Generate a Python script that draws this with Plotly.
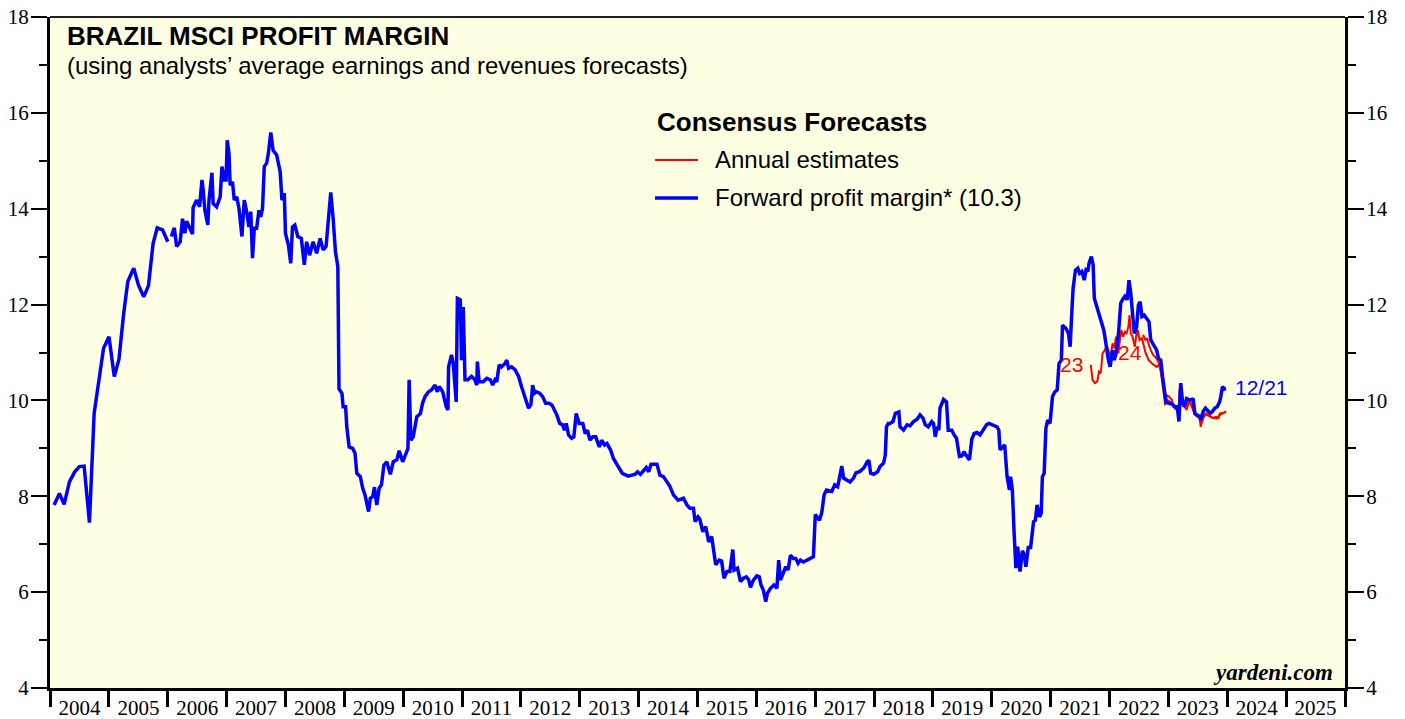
import pandas as pd
import plotly.graph_objects as go

# ---------------- data (decimal years, profit margin %) ----------------
fwd_t = [2004.07, 2004.16, 2004.24, 2004.33, 2004.42, 2004.50, 2004.58, 2004.67, 2004.75, 2004.84,
         2004.91, 2005.00, 2005.09, 2005.17, 2005.25, 2005.32, 2005.42, 2005.50, 2005.59, 2005.67,
         2005.75, 2005.82, 2005.91, 2006.00, 2006.03, 2006.06, 2006.11, 2006.15, 2006.21, 2006.25,
         2006.29, 2006.32, 2006.37, 2006.42, 2006.43, 2006.49, 2006.54, 2006.58, 2006.60, 2006.63,
         2006.68, 2006.70, 2006.75, 2006.77, 2006.83, 2006.89, 2006.92, 2006.96, 2006.99, 2007.01,
         2007.04, 2007.06, 2007.10, 2007.13, 2007.17, 2007.21, 2007.26, 2007.30, 2007.34, 2007.38,
         2007.41, 2007.44, 2007.47, 2007.51, 2007.55, 2007.58, 2007.61, 2007.64, 2007.68, 2007.71,
         2007.75, 2007.79, 2007.85, 2007.91, 2007.94, 2007.98, 2008.00, 2008.05, 2008.09, 2008.12,
         2008.16, 2008.21, 2008.27, 2008.32, 2008.36, 2008.41, 2008.47, 2008.53, 2008.59, 2008.64,
         2008.69, 2008.73, 2008.77, 2008.81, 2008.85, 2008.89, 2008.91, 2008.96, 2008.98, 2009.02,
         2009.04, 2009.08, 2009.14, 2009.18, 2009.21, 2009.27, 2009.31, 2009.35, 2009.41, 2009.44,
         2009.48, 2009.51, 2009.55, 2009.59, 2009.63, 2009.67, 2009.72, 2009.78, 2009.83, 2009.89,
         2009.93, 2009.99, 2010.03, 2010.08, 2010.10, 2010.13, 2010.17, 2010.23, 2010.29, 2010.33,
         2010.37, 2010.43, 2010.48, 2010.54, 2010.58, 2010.61, 2010.67, 2010.73, 2010.76, 2010.77,
         2010.82, 2010.85, 2010.90, 2010.92, 2010.97, 2010.99, 2011.02, 2011.05, 2011.10, 2011.16,
         2011.22, 2011.25, 2011.26, 2011.29, 2011.36, 2011.42, 2011.48, 2011.52, 2011.56, 2011.59,
         2011.63, 2011.67, 2011.73, 2011.76, 2011.79, 2011.84, 2011.90, 2011.96, 2012.01, 2012.07,
         2012.13, 2012.17, 2012.20, 2012.23, 2012.26, 2012.32, 2012.37, 2012.42, 2012.48, 2012.53,
         2012.58, 2012.61, 2012.66, 2012.71, 2012.74, 2012.77, 2012.81, 2012.86, 2012.90, 2012.94,
         2012.99, 2013.05, 2013.09, 2013.13, 2013.17, 2013.22, 2013.27, 2013.33, 2013.37, 2013.42,
         2013.46, 2013.52, 2013.57, 2013.61, 2013.67, 2013.72, 2013.82, 2013.94, 2013.98, 2014.03,
         2014.13, 2014.17, 2014.21, 2014.31, 2014.36, 2014.42, 2014.48, 2014.53, 2014.59, 2014.67,
         2014.76, 2014.82, 2014.87, 2014.93, 2014.96, 2015.01, 2015.04, 2015.09, 2015.14, 2015.19,
         2015.24, 2015.27, 2015.31, 2015.37, 2015.41, 2015.45, 2015.50, 2015.55, 2015.60, 2015.62,
         2015.68, 2015.73, 2015.78, 2015.83, 2015.87, 2015.90, 2015.95, 2016.01, 2016.05, 2016.08,
         2016.12, 2016.16, 2016.19, 2016.24, 2016.30, 2016.35, 2016.38, 2016.41, 2016.46, 2016.50,
         2016.54, 2016.58, 2016.63, 2016.67, 2016.71, 2016.75, 2016.80, 2016.85, 2016.91, 2016.97,
         2017.00, 2017.03, 2017.07, 2017.11, 2017.15, 2017.19, 2017.28, 2017.33, 2017.38, 2017.41,
         2017.45, 2017.48, 2017.54, 2017.59, 2017.65, 2017.69, 2017.76, 2017.83, 2017.88, 2017.91,
         2017.94, 2017.99, 2018.06, 2018.10, 2018.16, 2018.19, 2018.21, 2018.24, 2018.27, 2018.32,
         2018.36, 2018.42, 2018.44, 2018.50, 2018.56, 2018.61, 2018.67, 2018.73, 2018.78, 2018.83,
         2018.87, 2018.92, 2018.98, 2019.01, 2019.04, 2019.07, 2019.10, 2019.12, 2019.18, 2019.23,
         2019.26, 2019.32, 2019.36, 2019.40, 2019.45, 2019.49, 2019.53, 2019.56, 2019.62, 2019.66,
         2019.70, 2019.75, 2019.80, 2019.85, 2019.91, 2019.95, 2020.02, 2020.09, 2020.12, 2020.14,
         2020.19, 2020.22, 2020.26, 2020.30, 2020.32, 2020.35, 2020.38, 2020.41, 2020.44, 2020.48,
         2020.52, 2020.55, 2020.58, 2020.62, 2020.66, 2020.71, 2020.74, 2020.77, 2020.81, 2020.84,
         2020.86, 2020.89, 2020.92, 2020.95, 2020.99, 2021.03, 2021.07, 2021.11, 2021.14, 2021.18,
         2021.20, 2021.26, 2021.30, 2021.33, 2021.36, 2021.38, 2021.42, 2021.46, 2021.49, 2021.53,
         2021.57, 2021.60, 2021.63, 2021.65, 2021.69, 2021.72, 2021.74, 2021.78, 2021.83, 2021.87,
         2021.90, 2021.92, 2021.95, 2021.98, 2022.01, 2022.05, 2022.08, 2022.11, 2022.15, 2022.19,
         2022.22, 2022.26, 2022.30, 2022.33, 2022.36, 2022.39, 2022.42, 2022.46, 2022.49, 2022.52,
         2022.55, 2022.59, 2022.63, 2022.67, 2022.70, 2022.73, 2022.77, 2022.80, 2022.83, 2022.87,
         2022.90, 2022.93, 2022.96, 2023.00, 2023.06, 2023.11, 2023.15, 2023.18, 2023.21, 2023.24,
         2023.27, 2023.31, 2023.36, 2023.40, 2023.42, 2023.45, 2023.49, 2023.54, 2023.55, 2023.59,
         2023.63, 2023.67, 2023.71, 2023.75, 2023.79, 2023.83, 2023.87, 2023.89, 2023.92, 2023.95,
         2023.98]
fwd_v = [7.82, 8.06, 7.83, 8.30, 8.51, 8.62, 8.63, 7.45, 9.73, 10.43,
         11.09, 11.33, 10.50, 10.86, 11.82, 12.48, 12.76, 12.41, 12.16, 12.39,
         13.28, 13.60, 13.56, 13.31, None, 13.42, 13.60, 13.21, 13.31, 13.79,
         13.49, 13.74, 13.62, 13.47, 14.02, 14.18, 14.04, 14.60, 14.40, 13.97,
         13.66, 14.18, 14.75, 14.11, 14.04, 14.25, 14.88, 14.60, 14.60, 15.43,
         15.16, 14.49, 14.56, 14.18, 14.25, 14.01, 13.42, 14.18, 13.94, 13.62,
         13.94, 12.97, 13.59, 13.59, 13.97, 13.83, 14.01, 14.88, 14.95, 15.16,
         15.59, 15.22, 15.12, 14.77, 14.18, 14.32, 13.49, 13.24, 12.86, 13.62,
         13.66, 13.42, 13.38, 12.83, 13.31, 13.03, 13.31, 13.07, 13.38, 13.14,
         13.21, 13.83, 14.34, 13.80, 13.10, 12.79, 10.24, 10.15, 9.87, 9.87,
         9.45, 9.03, 9.00, 8.90, 8.48, 8.41, 8.17, 8.03, 7.68, 7.96,
         7.99, 8.19, 7.82, 8.17, 8.24, 8.65, 8.72, 8.46, 8.72, 8.76,
         8.95, 8.72, 8.86, 9.00, 10.43, 9.17, 9.24, 9.66, 9.72, 9.95,
         10.08, 10.18, 10.22, 10.32, 10.18, 10.29, 10.18, 9.87, 9.80, 10.70,
         10.95, 10.77, 9.97, 12.13, 12.10, 10.84, 11.95, 10.43, 10.43, 10.50,
         10.43, 10.32, 10.81, 10.39, 10.39, 10.46, 10.43, 10.32, 10.43, 10.39,
         10.74, 10.70, 10.77, 10.84, 10.67, 10.70, 10.64, 10.50, 10.29, 10.08,
         9.84, 9.91, 10.32, 10.15, 10.18, 10.15, 10.08, 9.94, 9.94, 9.90,
         9.77, 9.70, 9.52, 9.49, 9.38, 9.52, 9.28, 9.21, 9.24, 9.73,
         9.52, 9.52, 9.31, 9.38, 9.17, 9.24, 9.24, 9.03, 9.17, 9.07,
         9.10, 8.97, 8.79, 8.69, 8.58, 8.48, 8.42, 8.46, 8.51, 8.46,
         8.60, 8.51, 8.67, 8.67, 8.44, 8.41, 8.30, 8.21, 8.03, 7.92,
         7.96, 7.82, 7.75, 7.75, 7.47, 7.57, 7.52, 7.26, 7.37, 7.05,
         7.16, 6.88, 6.57, 6.67, 6.65, 6.29, 6.43, 6.43, 6.89, 6.46,
         6.50, 6.22, 6.29, 6.32, 6.26, 6.10, 6.25, 6.34, 6.32, 6.15,
         6.04, 5.80, 5.98, 6.08, 6.15, 6.08, 6.67, 6.25, 6.43, 6.53,
         6.46, 6.77, 6.70, 6.70, 6.60, 6.67, 6.63, 6.67, 6.70, 6.74,
         7.62, 7.57, 7.50, 7.66, 8.03, 8.13, 8.10, 8.24, 8.20, 8.38,
         8.63, 8.38, 8.34, 8.30, 8.38, 8.49, 8.52, 8.60, 8.72, 8.75,
         8.48, 8.46, 8.51, 8.62, 8.69, 8.86, 9.45, 9.52, 9.52, 9.56,
         9.73, 9.76, 9.45, 9.38, 9.49, 9.47, 9.56, 9.61, 9.70, 9.63,
         9.49, 9.45, 9.56, 9.52, 9.24, 9.45, 9.38, 9.84, 10.02, 9.97,
         9.38, 9.38, 9.28, 9.21, 8.83, 8.84, 8.93, 8.86, 8.76, 9.19,
         9.31, 9.33, 9.28, 9.38, 9.49, 9.52, 9.49, 9.45, 9.38, 8.97,
         9.03, 9.07, 8.41, 8.13, 8.41, 8.13, 7.23, 6.50, 6.95, 6.43,
         6.86, 6.79, 6.53, 6.93, 6.93, 7.47, 7.50, 7.82, 7.57, 7.64,
         8.41, 8.48, 9.42, 9.59, 9.52, 10.08, 10.18, 10.22, 10.77, 10.84,
         11.57, 11.50, 11.40, 11.12, 11.89, 12.34, 12.72, 12.76, 12.65, 12.69,
         12.51, 12.72, 12.69, 12.86, 13.00, 12.83, 12.13, 11.97, 11.78, 11.64,
         11.47, 11.33, 11.05, 10.84, 10.70, 11.05, 10.84, 10.98, 11.37, 12.03,
         12.10, 12.17, 12.10, 12.51, 12.24, 11.89, 11.40, 11.54, 11.99, 12.06,
         11.75, 11.78, 11.71, 11.64, 11.26, 11.19, 11.09, 11.05, 10.88, 10.84,
         10.50, 10.15, 9.97, 9.94, 9.93, 9.87, 9.87, 9.56, 10.36, 9.97,
         9.87, 10.04, 10.01, 10.02, 10.04, 9.73, 9.70, 9.66, 9.59, 9.77,
         9.84, 9.77, 9.73, 9.77, 9.84, 9.87, 9.97, 10.08, 10.29, 10.24,
         10.25]

est23_t = [2021.68, 2021.71, 2021.75, 2021.79, 2021.82, 2021.85, 2021.88, 2021.92, 2021.95, 2021.98,
           2022.02, 2022.05, 2022.08, 2022.11, 2022.15, 2022.18, 2022.20, 2022.23, 2022.26, 2022.29,
           2022.32, 2022.34, 2022.36, 2022.39, 2022.43, 2022.45, 2022.48, 2022.51, 2022.55, 2022.61,
           2022.66, 2022.72, 2022.76, 2022.80, 2022.84, 2022.87, 2022.90, 2022.93, 2022.94, 2022.97,
           2023.01, 2023.06, 2023.08, 2023.13, 2023.17, 2023.20, 2023.24, 2023.28, 2023.31, 2023.36,
           2023.40, 2023.42, 2023.45, 2023.49, 2023.53, 2023.55, 2023.59, 2023.64, 2023.68, 2023.72,
           2023.76, 2023.81, 2023.85, 2023.88, 2023.92, 2023.98]
est23_v = [10.74, 10.43, 10.36, 10.39, 10.60, 10.57, 10.98, 11.05, 11.15, 11.05,
           10.91, 11.19, 11.09, 11.33, 10.98, 11.30, 11.47, 11.33, 11.43, 11.40,
           11.54, 11.78, 11.40, 11.33, 11.12, 11.33, 11.47, 11.26, 11.30, 11.00,
           10.85, 10.77, 10.74, 10.70, 10.74, 10.64, 10.43, 10.15, 9.90, 10.11,
           10.08, 10.01, 9.87, 9.84, 9.73, 10.36, 9.94, 9.84, 9.80, 10.01,
           9.90, 9.80, 9.70, 9.66, 9.63, 9.45, 9.70, 9.73, 9.70, 9.66,
           9.63, 9.66, 9.63, 9.73, 9.73, 9.77]

est24_t = [2022.57, 2022.61, 2022.64, 2022.66, 2022.70, 2022.74, 2022.78, 2022.83, 2022.87, 2022.90,
           2022.93, 2022.97, 2023.02, 2023.07, 2023.12, 2023.17, 2023.20, 2023.24, 2023.29, 2023.34,
           2023.38, 2023.43, 2023.48, 2023.53, 2023.56, 2023.61, 2023.66, 2023.71, 2023.76, 2023.82,
           2023.87, 2023.92, 2023.98]
est24_v = [11.37, 11.26, 11.30, 11.19, 11.05, 10.95, 10.90, 10.80, 10.60, 10.35,
           10.05, 10.02, 9.98, 9.90, 9.82, 9.80, 10.30, 9.95, 9.86, 9.98,
           9.92, 9.78, 9.70, 9.62, 9.52, 9.68, 9.70, 9.66, 9.64, 9.62,
           9.70, 9.72, 9.76]

y_ticks = [4, 6, 8, 10, 12, 14, 16, 18]

legend_title = "Consensus Forecasts"
legend_red = "Annual estimates"
legend_blue = "Forward profit margin* (10.3)"


def to_dates(years):
    out = []
    for y in years:
        yr = int(y)
        start = pd.Timestamp(year=yr, month=1, day=1)
        out.append(start + pd.Timedelta(days=(y - yr) * 365.25))
    return out


SANS = "Liberation Sans, Arial, sans-serif"
SERIF = "Liberation Serif, Times New Roman, serif"
RED = "#FF0000"
BLUE = "#0000FF"

fig = go.Figure()

fig.add_trace(go.Scatter(x=to_dates(est23_t), y=est23_v, mode="lines",
                         line=dict(color=RED, width=2), name=legend_red,
                         showlegend=False, hoverinfo="skip"))
fig.add_trace(go.Scatter(x=to_dates(est24_t), y=est24_v, mode="lines",
                         line=dict(color=RED, width=2), name=legend_red,
                         showlegend=False, hoverinfo="skip"))
fig.add_trace(go.Scatter(x=to_dates(fwd_t), y=fwd_v, mode="lines",
                         line=dict(color=BLUE, width=3.5), name=legend_blue,
                         connectgaps=False, showlegend=False, hoverinfo="skip"))
# invisible trace to anchor right-hand axis
fig.add_trace(go.Scatter(x=to_dates([2004.5]), y=[None], yaxis="y2", showlegend=False,
                         mode="lines", hoverinfo="skip"))

axis_common = dict(range=[4, 18], tickvals=y_ticks, ticks="outside", ticklen=16, tickwidth=2,
                   tickcolor="black", showgrid=False, zeroline=False, showline=True,
                   linewidth=3, linecolor="black", ticklabeloverflow="allow",
                   ticklabelstandoff=-2,
                   tickfont=dict(family=SERIF, size=21, color="black"),
                   minor=dict(dtick=1, tick0=4, ticks="outside", ticklen=8, tickwidth=1.5,
                              tickcolor="black", showgrid=False),
                   automargin=False)

# page body has an 8px margin; plot area sits at (50,17)-(1345,688) on the page
fig.update_layout(
    width=1397, height=711,
    template="none",
    paper_bgcolor="white",
    plot_bgcolor="#FFFFE4",
    margin=dict(l=42, r=60, t=9, b=31),
    xaxis=dict(type="date", range=["2004-01-01", "2026-01-01"], tick0="2004-01-01",
               dtick="M12", tickformat="%Y", ticklabelmode="period",
               ticks="outside", ticklen=16, tickwidth=3, tickcolor="black",
               showline=True, linewidth=3, linecolor="black", showgrid=False,
               zeroline=False, ticklabelstandoff=-17, ticklabeloverflow="allow",
               tickfont=dict(family=SERIF, size=21, color="black"), automargin=False),
    yaxis=dict(side="left", **axis_common),
    yaxis2=dict(side="right", overlaying="y", **axis_common),
    showlegend=False,
    shapes=[
        dict(type="line", xref="paper", yref="paper", x0=0, x1=1, y0=1, y1=1,
             line=dict(color="#222222", width=2)),
        # legend samples
        dict(type="line", xref="paper", yref="paper", x0=0.4672, x1=0.5004,
             y0=0.7869, y1=0.7869, line=dict(color=RED, width=2)),
        dict(type="line", xref="paper", yref="paper", x0=0.4672, x1=0.5004,
             y0=0.7303, y1=0.7303, line=dict(color=BLUE, width=3.5)),
    ],
    annotations=[
        dict(text="<b>BRAZIL MSCI PROFIT MARGIN</b>", xref="paper", yref="paper",
             x=0.0116, y=0.9717, xanchor="left", yanchor="middle", showarrow=False,
             font=dict(family=SANS, size=26, color="black")),
        dict(text="(using analysts’ average earnings and revenues forecasts)", xref="paper",
             yref="paper", x=0.0116, y=0.927, xanchor="left", yanchor="middle",
             showarrow=False, font=dict(family=SANS, size=24, color="black")),
        dict(text="<b>" + legend_title + "</b>", xref="paper", yref="paper",
             x=0.4672, y=0.8435, xanchor="left", yanchor="middle", showarrow=False,
             font=dict(family=SANS, size=26, color="black")),
        dict(text=legend_red, xref="paper", yref="paper",
             x=0.512, y=0.7869, xanchor="left", yanchor="middle", showarrow=False,
             font=dict(family=SANS, size=24, color="black")),
        dict(text=legend_blue, xref="paper", yref="paper",
             x=0.512, y=0.7303, xanchor="left", yanchor="middle", showarrow=False,
             font=dict(family=SANS, size=24, color="black")),
        dict(text="<b><i>yardeni.com</i></b>", xref="paper", yref="paper",
             x=0.9923, y=0.0224, xanchor="right", yanchor="middle", showarrow=False,
             font=dict(family=SERIF, size=23, color="black")),
        dict(text="23", x=to_dates([2021.36])[0], y=10.74, xanchor="center",
             yanchor="middle", showarrow=False,
             font=dict(family=SANS, size=21, color=RED)),
        dict(text="24", x=to_dates([2022.35])[0], y=11.01, xanchor="center",
             yanchor="middle", showarrow=False,
             font=dict(family=SANS, size=21, color=RED)),
        dict(text="12/21", x=to_dates([2024.10])[0], y=10.26, xanchor="left",
             yanchor="middle", showarrow=False,
             font=dict(family=SANS, size=21, color=BLUE)),
    ],
)

fig.write_html("out.html")
